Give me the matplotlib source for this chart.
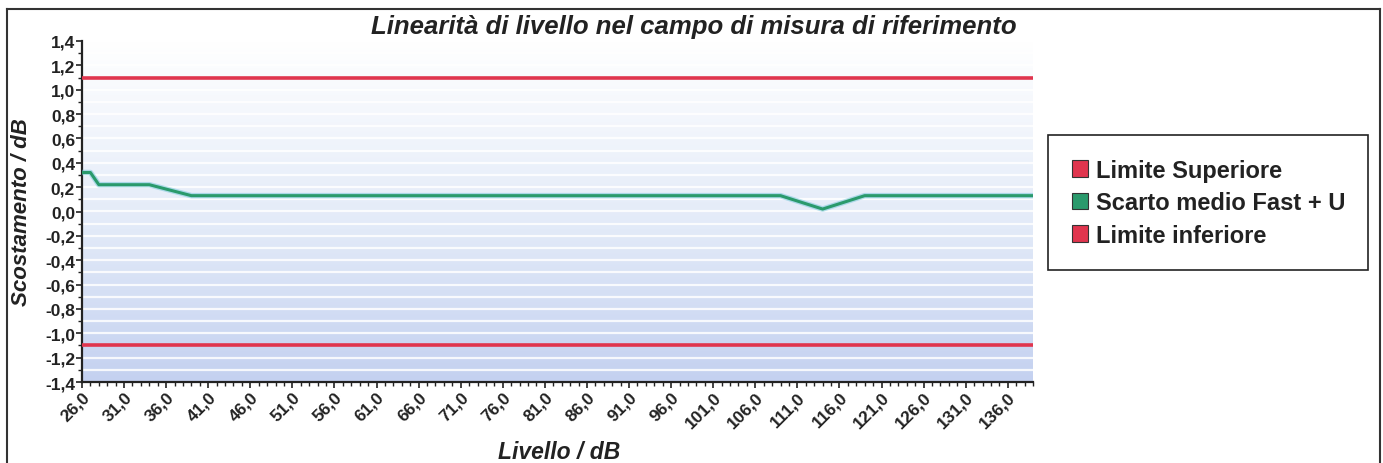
import matplotlib
matplotlib.use("Agg")
import matplotlib.pyplot as plt
import numpy as np
from matplotlib.colors import LinearSegmentedColormap
from matplotlib.patches import Patch
from matplotlib.lines import Line2D
from matplotlib.ticker import FixedLocator, MultipleLocator, FuncFormatter

plt.rcParams['font.family'] = ['Liberation Sans', 'DejaVu Sans']

# ---- data ----
levels = [26, 27, 28, 34, 39, 109, 114, 119, 139]
scarto = [0.32, 0.32, 0.22, 0.22, 0.13, 0.13, 0.02, 0.13, 0.13]
limite_sup = [1.1, 1.1]
limite_inf = [-1.1, -1.1]
limit_x = [26, 139]
x_ticks = [26, 31, 36, 41, 46, 51, 56, 61, 66, 71, 76, 81, 86, 91, 96, 101,
           106, 111, 116, 121, 126, 131, 136]
y_ticks = [-1.4, -1.2, -1.0, -0.8, -0.6, -0.4, -0.2, 0.0, 0.2, 0.4, 0.6, 0.8, 1.0, 1.2, 1.4]
title = "Linearità di livello nel campo di misura di riferimento"
series_names = ["Limite Superiore", "Scarto medio Fast + U", "Limite inferiore"]

RED = '#e0354e'
GREEN = '#2a9a6c'
INK = '#222222'

W, H = 1383, 464
fig = plt.figure(figsize=(W / 100, H / 100), dpi=100)
ax = fig.add_axes([82 / W, 1 - 383 / H, (1033 - 82) / W, (383 - 42) / H])

ax.set_xlim(limit_x[0], limit_x[1])
ax.set_ylim(-1.4, 1.4)

# gradient background
cmap = LinearSegmentedColormap.from_list('bg', [(0.0, '#c4d1f0'), (0.45, '#e2eaf8'), (1.0, '#ffffff')])
grad = np.linspace(0, 1, 256).reshape(-1, 1)
ax.imshow(grad, cmap=cmap, origin='lower', aspect='auto',
          extent=[limit_x[0], limit_x[1], -1.4, 1.4], zorder=0)
for yv in np.arange(-1.3, 1.31, 0.1):
    ax.axhline(yv, color='white', lw=1.6, alpha=0.85, zorder=1)

ax.plot(limit_x, limite_sup, color=RED, lw=2.6, zorder=3, solid_capstyle='butt')
ax.plot(limit_x, limite_inf, color=RED, lw=2.6, zorder=3, solid_capstyle='butt')
ax.plot(levels, scarto, color='#6fc3d8', lw=4, alpha=0.5, zorder=3)
ax.plot(levels, scarto, color=GREEN, lw=2.2, zorder=4)

for s in ['top', 'right']:
    ax.spines[s].set_visible(False)
for s in ['left', 'bottom']:
    ax.spines[s].set_color(INK)
    ax.spines[s].set_linewidth(1.6)

fmt = FuncFormatter(lambda v, p: f"{v:.1f}".replace('.', ',').replace('-0,0', '0,0'))
ax.yaxis.set_major_locator(FixedLocator(y_ticks))
ax.yaxis.set_minor_locator(MultipleLocator(0.1))
ax.yaxis.set_major_formatter(fmt)
ax.xaxis.set_major_locator(FixedLocator(x_ticks))
ax.xaxis.set_minor_locator(MultipleLocator(1))
ax.xaxis.set_major_formatter(fmt)

ax.tick_params(axis='both', which='major', length=4, width=1.2, color=INK,
               labelsize=12.5, pad=1)
ax.tick_params(axis='both', which='minor', length=3, width=1.0, color=INK)
for lab in ax.get_yticklabels():
    lab.set_fontweight('bold')
    lab.set_color(INK)
for lab in ax.get_xticklabels():
    lab.set_fontweight('bold')
    lab.set_color(INK)
    lab.set_rotation(45)
    lab.set_ha('right')
    lab.set_rotation_mode('anchor')

fig.text(694 / W, 1 - 27 / H, title, ha='center', va='center', fontsize=18.5,
         fontweight='bold', fontstyle='italic', color=INK)
fig.text(22 / W, 1 - 212 / H, "Scostamento / dB", ha='center', va='center', rotation=90,
         fontsize=16, fontweight='bold', fontstyle='italic', color=INK)
fig.text(559 / W, 1 - 453 / H, "Livello / dB", ha='center', va='center',
         fontsize=16.5, fontweight='bold', fontstyle='italic', color=INK)

handles = [Patch(facecolor=RED, edgecolor='#333333', lw=0.8),
           Patch(facecolor=GREEN, edgecolor='#333333', lw=0.8),
           Patch(facecolor=RED, edgecolor='#333333', lw=0.8)]
leg = fig.legend(handles, series_names, loc='upper left',
                 bbox_to_anchor=(1048 / W, 1 - 136 / H, (1368 - 1048) / W, 0.0),
                 mode='expand', fancybox=False, framealpha=1, edgecolor=INK,
                 prop={'weight': 'bold', 'size': 17}, handlelength=0.7, handleheight=0.7,
                 handletextpad=0.35, labelspacing=0.4, borderpad=1.0, borderaxespad=0)
leg.get_frame().set_linewidth(1.2)
for t in leg.get_texts():
    t.set_color(INK)

# outer frame
fig.add_artist(Line2D([7 / W, 7 / W], [0, 1 - 10 / H], transform=fig.transFigure, color='#333333', lw=1.5))
fig.add_artist(Line2D([7 / W, 1380 / W], [1 - 10 / H, 1 - 10 / H], transform=fig.transFigure, color='#333333', lw=1.5))
fig.add_artist(Line2D([1380 / W, 1380 / W], [0, 1 - 10 / H], transform=fig.transFigure, color='#333333', lw=1.5))

fig.savefig('out.png', dpi=100)
